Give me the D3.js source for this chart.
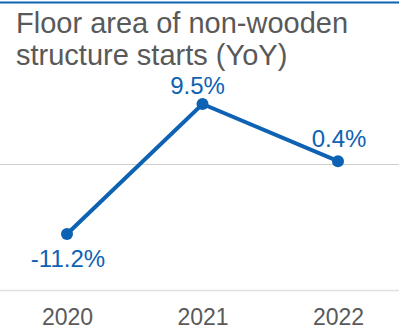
<!DOCTYPE html>
<html>
<head>
<meta charset="utf-8">
<script src="https://cdn.jsdelivr.net/npm/d3@7"></script>
<style>
  html, body { margin: 0; padding: 0; background: #fff; }
  svg { display: block; font-family: "Liberation Sans", Arial, sans-serif; }
</style>
</head>
<body>
<svg width="399" height="327"></svg>
<script>
var years = ['2020', '2021', '2022']
var values = [-11.2, 9.5, 0.4]
var labels = ['-11.2%', '9.5%', '0.4%']
var titleLines = ['Floor area of non-wooden', 'structure starts (YoY)']

var svg = d3.select('svg')
var blue = '#0d62b3'

// top rule
svg.append('line')
  .attr('x1', 0).attr('x2', 399)
  .attr('y1', 2.5).attr('y2', 2.5)
  .attr('stroke', blue).attr('stroke-width', 2)

// scales
var x = d3.scalePoint().domain(years).range([67, 338])
var y = d3.scaleLinear().domain([-11.2, 9.5]).range([234, 104])

// grid lines
svg.append('line')
  .attr('x1', 0).attr('x2', 399)
  .attr('y1', Math.round(y(0)) + 0.5).attr('y2', Math.round(y(0)) + 0.5)
  .attr('stroke', '#d0d0d0').attr('stroke-width', 1)
svg.append('line')
  .attr('x1', 0).attr('x2', 399)
  .attr('y1', 290.5).attr('y2', 290.5)
  .attr('stroke', '#e0e0e0').attr('stroke-width', 1.5)

// title
svg.append('text')
  .attr('fill', '#595959')
  .attr('font-size', 29)
  .selectAll('tspan')
  .data(titleLines)
  .join('tspan')
  .attr('x', 16)
  .attr('y', function(d, i) { return 33 + i * 32 })
  .text(function(d) { return d })

// line
var line = d3.line()
  .x(function(d, i) { return x(years[i]) })
  .y(function(d) { return y(d) })
svg.append('path')
  .datum(values)
  .attr('d', line)
  .attr('fill', 'none')
  .attr('stroke', blue)
  .attr('stroke-width', 4)

svg.selectAll('circle.pt')
  .data(values)
  .join('circle')
  .attr('class', 'pt')
  .attr('cx', function(d, i) { return x(years[i]) })
  .attr('cy', function(d) { return y(d) })
  .attr('r', 6)
  .attr('fill', blue)

// data labels
var labelDx = [1, -5, 1]
var labelDy = [33, -10, -14]
svg.selectAll('text.lbl')
  .data(values)
  .join('text')
  .attr('class', 'lbl')
  .attr('x', function(d, i) { return x(years[i]) + labelDx[i] })
  .attr('y', function(d, i) { return y(d) + labelDy[i] })
  .attr('text-anchor', 'middle')
  .attr('font-size', 24)
  .attr('fill', blue)
  .text(function(d, i) { return labels[i] })

// x axis
var xAxis = svg.append('g')
  .attr('transform', 'translate(0,304)')
  .call(d3.axisBottom(x).tickSize(0).tickPadding(0))
xAxis.select('.domain').remove()
xAxis.selectAll('text')
  .attr('font-size', 23)
  .attr('font-family', '"Liberation Sans", Arial, sans-serif')
  .attr('fill', '#595959')
  .attr('dy', '0.9em')
</script>
</body>
</html>
